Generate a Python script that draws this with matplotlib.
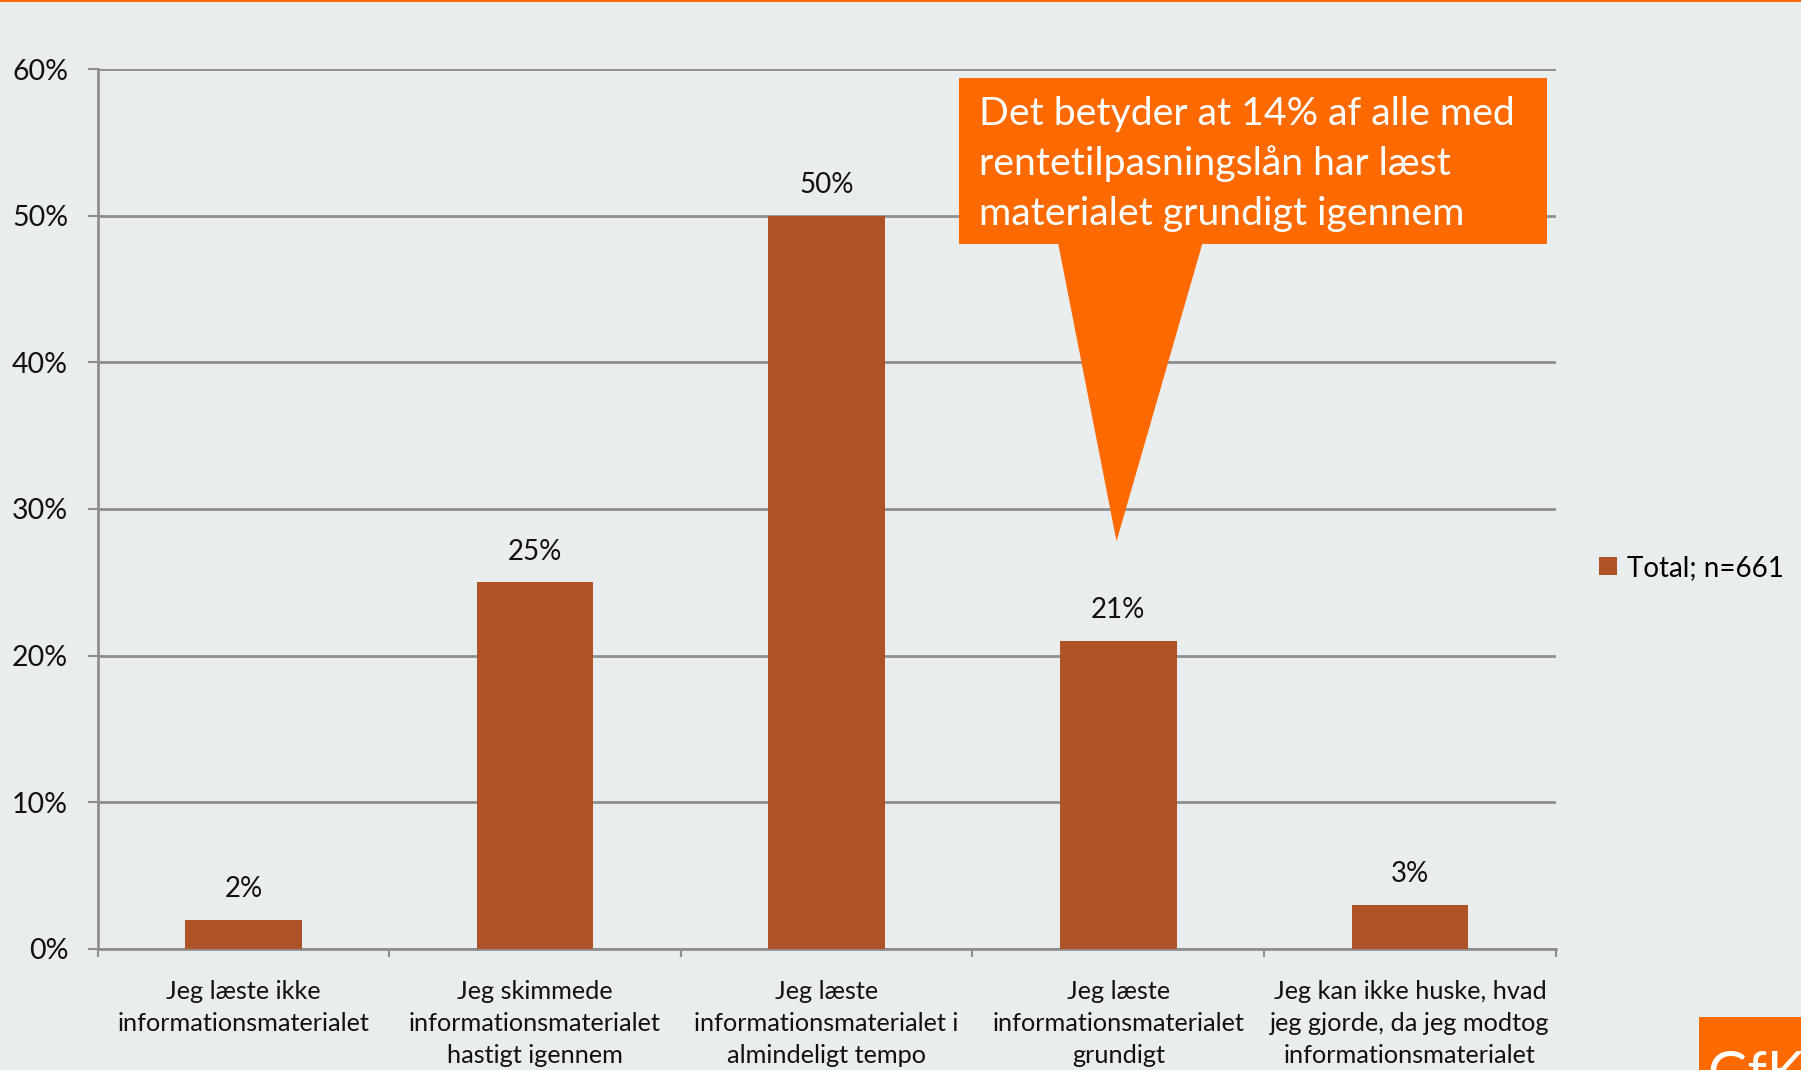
import matplotlib
matplotlib.use('Agg')
from matplotlib import pyplot as plt
from matplotlib.patches import Polygon, Rectangle
import numpy as np

# data
categories = ['Jeg læste ikke\ninformationsmaterialet',
              'Jeg skimmede\ninformationsmaterialet\nhastigt igennem',
              'Jeg læste\ninformationsmaterialet i\nalmindeligt tempo',
              'Jeg læste\ninformationsmaterialet\ngrundigt',
              'Jeg kan ikke huske, hvad\njeg gjorde, da jeg modtog\ninformationsmaterialet']
values = [2, 25, 50, 21, 3]
series_name = 'Total; n=661'
yticks = [0, 10, 20, 30, 40, 50, 60]
callout = 'Det betyder at 14% af alle med\nrentetilpasningslån har læst\nmaterialet grundigt igennem'

bg = '#E9EDEE'
bar_col = '#AE5228'
orange = '#FF6A00'
grid_col = '#8E8E8E'
font = 'Lato'

plt.rcParams['font.family'] = [font, 'DejaVu Sans']

fig = plt.figure(figsize=(18.01, 10.70), dpi=100, facecolor=bg)
ax = fig.add_axes([0.0542, 0.1131, 0.8096, 0.8224])
ax.set_facecolor(bg)

x = np.arange(len(values))
ax.bar(x, values, width=0.4, color=bar_col, zorder=3, label=series_name)
for xi, v in zip(x, values):
    ax.text(xi, v + 1.2, f'{v}%', ha='center', va='bottom', fontsize=20, color='#111111')

ax.set_xlim(-0.5, len(values) - 0.5)
ax.set_ylim(0, 60)
ax.set_yticks(yticks)
ax.set_yticklabels([f'{t}%' for t in yticks], fontsize=20.5, color='#111111')
ax.yaxis.grid(True, color=grid_col, linewidth=2, zorder=0)
ax.tick_params(axis='y', length=7.2, width=1.5, color=grid_col, pad=14)

# category boundaries as ticks
ax.set_xticks(np.arange(-0.5, len(values), 1.0))
ax.set_xticklabels([])
ax.set_xticks(x, minor=True)
ax.set_xticklabels(categories, minor=True, fontsize=18.2, color='#111111', linespacing=1.48)
ax.tick_params(axis='x', which='major', length=6, width=1.5, color=grid_col)
ax.tick_params(axis='x', which='minor', length=0, pad=22)

for s in ['top', 'right']:
    ax.spines[s].set_visible(False)
ax.spines['left'].set_color(grid_col)
ax.spines['left'].set_linewidth(2)
ax.spines['bottom'].set_color(grid_col)
ax.spines['bottom'].set_linewidth(2)

leg = ax.legend(loc='center left', bbox_to_anchor=(1.022, 0.433), frameon=False,
                fontsize=20, handlelength=0.65, handleheight=0.65, handletextpad=0.35,
                borderaxespad=0)

# callout bubble
tri = Polygon([[2.793, 48.2], [3.290, 48.2], [2.994, 27.8]], closed=True,
              facecolor=orange, edgecolor='none', zorder=5, clip_on=False)
box = Rectangle((2.454, 48.1), 4.470 - 2.454, 59.4 - 48.1, facecolor=orange,
                edgecolor='none', zorder=5, clip_on=False)
ax.add_patch(tri)
ax.add_patch(box)
ax.text(2.522, 53.55, callout, ha='left', va='center', fontsize=28.3, color='white',
        linespacing=1.46, zorder=6)

# top orange rule and corner logo
fig.add_artist(Rectangle((0, 0.998), 1, 0.002, transform=fig.transFigure,
                         facecolor=orange, edgecolor='none'))
fig.add_artist(Rectangle((0.9434, 0), 0.0566, 0.0495, transform=fig.transFigure,
                         facecolor=orange, edgecolor='none'))
fig.text(0.948, -0.029, 'GfK', fontsize=40, color='white', ha='left', va='bottom')

fig.savefig('out.png', dpi=100, facecolor=bg)
